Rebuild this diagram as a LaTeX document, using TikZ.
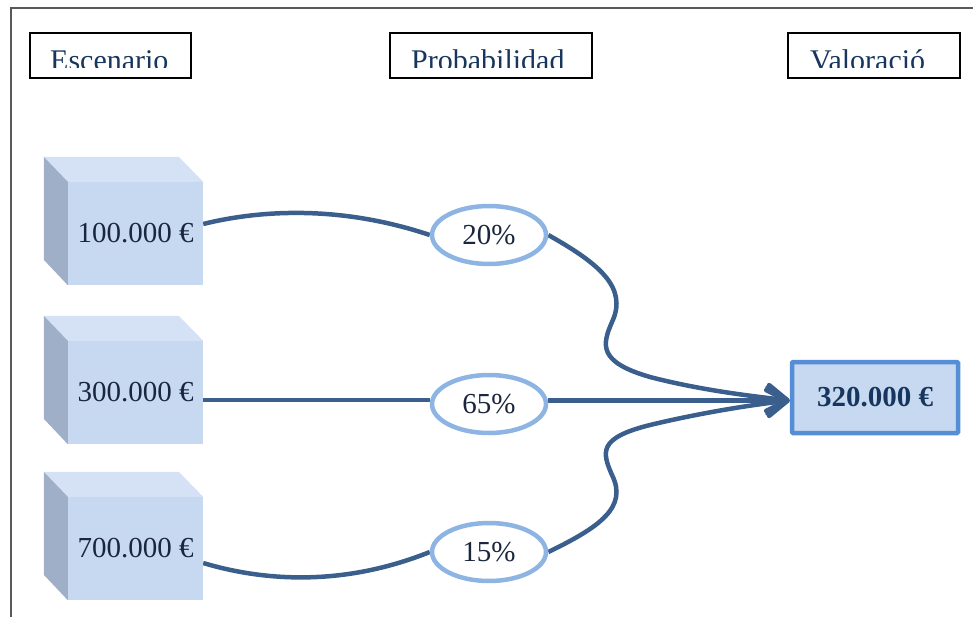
\documentclass[tikz,border=0pt]{standalone}
\usepackage{fontspec}
\setmainfont{Liberation Serif}
\usetikzlibrary{positioning,arrows.meta,shapes.geometric,backgrounds}
\definecolor{colorfront}{RGB}{198,217,241}
\definecolor{colortop}  {RGB}{213,226,245}
\definecolor{colorside} {RGB}{159,175,200}
\definecolor{colorring} {RGB}{141,180,226}
\definecolor{colorlink} {RGB}{59 ,95 ,141}
\definecolor{colorbox}  {RGB}{85 ,142,213}
\definecolor{colortext} {RGB}{26 ,38 ,62 }
\definecolor{colorhead} {RGB}{23 ,54 ,93 }

\begin{document}
\begin{tikzpicture}[
    x=1pt, y=-1pt,
    font={\fontsize{29}{32}\selectfont},
    base/.style={text=colortext,inner sep=0pt,align=center},
    front/.style={base,fill=colorfront,minimum width=135pt,minimum height=103pt},
    prob/.style={base,ellipse,draw=colorring,line width=4.5pt,fill=white,minimum width=114pt,minimum height=58pt},
    result/.style={base,draw=colorbox,fill=colorfront,line width=4.5pt,rounded corners=1pt,minimum width=166pt,minimum height=71pt,font={\fontsize{29}{32}\selectfont\bfseries},text=colorhead},
    head/.style={draw=black,line width=1.8pt,minimum height=45pt},
    htxt/.style={base,anchor=base west,font={\fontsize{30}{32}\selectfont},text=colorhead},
    link/.style={draw=colorlink,line width=4.5pt},
    tip/.style={-{Straight Barb[length=20pt,width=26pt,round]}},
]
    \useasboundingbox (0,0) rectangle (973,617);
    \draw[line width=1.2pt,black!65] (11,617) -- (11,8) -- (973,8);

    % column titles
    \node[head,minimum width=161pt] at (110.5,55.5) (hesc)  {};
    \node[head,minimum width=202pt] at (491,55.5)   (hprob) {};
    \node[head,minimum width=172pt] at (874,55.5)   (hval)  {};
    \begin{scope}
        \clip (hesc.north west) rectangle (973,67.5);
        \node[htxt] at (50,71)  (tesc)  {Escenario};
        \node[htxt] at (411,71) (tprob) {Probabilidad};
        \node[htxt] at (810,71) (tval)  {Valoració};
    \end{scope}

    % scenarios
    \node[front] at (135.5,233.5) (s1) {100.000 €};
    \node[front] at (135.5,392.5) (s2) {300.000 €};
    \node[front] at (135.5,548.5) (s3) {700.000 €};
    \foreach \s in {s1,s2,s3}{
        \fill[colortop]  (\s.north west) -- ++(-24,-25) -- ++(135,0) -- (\s.north east) -- cycle;
        \fill[colorside] (\s.north west) -- ++(-24,-25) -- ++(0,103) -- (\s.south west) -- cycle;
    }

    % probabilities
    \node[prob] at (489,235) (p1) {20\%};
    \node[prob] at (489,404) (p2) {65\%};
    \node[prob] at (489,552) (p3) {15\%};

    \node[result] at (875,397.5) (val) {320.000 €};
    \coordinate (end) at ([yshift=-3pt]val.west);
    \coordinate (mid) at ([yshift=-7.5pt]s2.east);

    \begin{pgfonlayer}{background}
    \draw[link] ([yshift=9.5pt]s1.east) .. controls (260,210) and (340,205) .. (p1.west);
    \draw[link] (mid) -- (mid -| p2.west);
    \draw[link] ([yshift=-14.5pt]s3.east) .. controls (260,580) and (340,588) .. (p3.west);

    \draw[link,tip] (p1.east) .. controls (600,264) and (628,288) .. (612,322)
        .. controls (602,345) and (598,362) .. (650,377)
        .. controls (700,390) and (750,396) .. (end);
    \draw[link,tip] (p2.east |- end) -- (end);
    \draw[link,tip] (p3.east) .. controls (600,527) and (628,507) .. (612,475)
        .. controls (602,452) and (598,438) .. (650,425)
        .. controls (700,413) and (750,405) .. (end);
    \end{pgfonlayer}

\end{tikzpicture}
\end{document}
